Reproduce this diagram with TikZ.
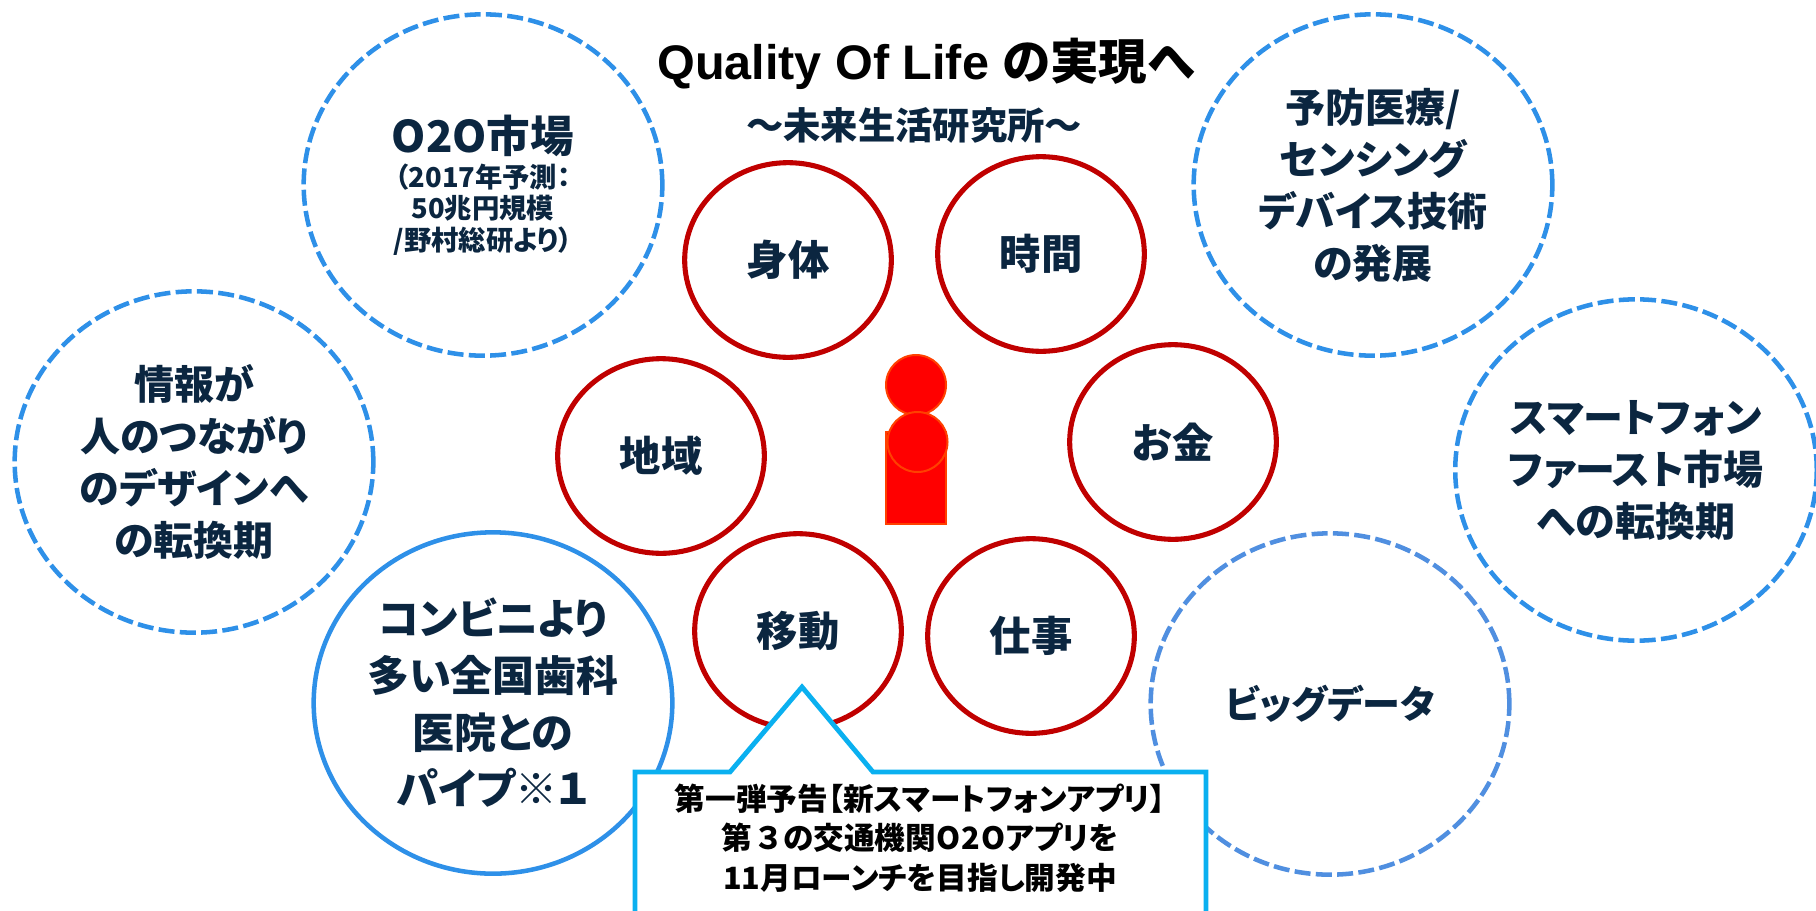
\documentclass[tikz,border=0pt]{standalone}
\usepackage{fontspec}
\usetikzlibrary{shapes.geometric}
\setmainfont{Liberation Sans}
\newfontfamily\cjk[RawFeature=+palt]{Noto Sans CJK JP}
\definecolor{bubbleblue}{RGB}{46,144,232}
\definecolor{databblue}{RGB}{80,143,224}
\definecolor{ringred}{RGB}{192,0,0}
\definecolor{inkblue}{RGB}{11,38,64}
\definecolor{callblue}{RGB}{10,176,240}
\definecolor{bodyred}{RGB}{255,0,0}
\definecolor{bodyline}{RGB}{255,64,0}
\tikzset{
  bubble/.style={ellipse,draw=#1,line width=3.4pt,inner sep=0pt,minimum width=269pt,minimum height=256pt,align=center,text=inkblue,font=\cjk\bfseries\fontsize{30}{39}\selectfont},
  broken/.style={dash pattern={on 12pt off 4pt}},
  ring/.style={ellipse,draw=ringred,line width=3.8pt,inner sep=0pt,minimum width=155pt,minimum height=146pt,align=center,text=inkblue,font=\cjk\bfseries\fontsize{31}{39}\selectfont},
  person/.style={fill=bodyred,draw=bodyline,line width=1.5pt},
}
\begin{document}
\begin{tikzpicture}[x=0.75pt,y=0.75pt,yscale=-1]
\clip (0,0) rectangle (1816,910);

%Shape: Ellipse
\node [bubble=bubbleblue,broken,font=\cjk\bfseries\fontsize{20.5}{23.5}\selectfont] (market) at (483,185) {{\fontsize{32.7}{36}\selectfont O2O市場}\\[3pt]（2017年予測：\\50兆円規模\\/野村総研より）};
\node [bubble=bubbleblue,broken] (design) at (194,462) {情報が\\人のつながり\\のデザインへ\\の転換期};
\node [bubble=bubbleblue,font=\cjk\bfseries\fontsize{31.5}{42.5}\selectfont] (dental) at (493,703) {コンビニより\\多い全国歯科\\医院との\\パイプ※１};
\node [bubble=databblue,broken,font=\cjk\bfseries\fontsize{28.5}{36}\selectfont] (bigdata) at (1330,704) {ビッグデータ};
\node [bubble=bubbleblue,broken] (phone) at (1636,470) {スマートフォン\\ファースト市場\\への転換期};
\node [bubble=bubbleblue,broken] (sensing) at (1373,185) {予防医療/\\センシング\\デバイス技術\\の発展};

%Shape: Ellipse
\node [ring] (body) at (788,260) {身体};
\node [ring] (time) at (1041,254) {時間};
\node [ring] (area) at (661,456) {地域};
\node [ring] (money) at (1173,442) {お金};
\node [ring] (move) at (798,631) {移動};
\node [ring] (work) at (1031,636) {仕事};

%Shape: Person
\draw [person] (886,432) rectangle (946,524);
\draw [person] (916,385) circle [radius=30];
\draw [person] (917.5,442) circle [radius=30];

%Shape: Callout
\draw [draw=callblue,fill=white,line width=3.6pt] (635,930) -- (635,772) -- (730,772) -- (802,687) -- (873,772) -- (1206,772) -- (1206,930) -- cycle;

% Text Node
\node [align=center,font=\cjk\bfseries\fontsize{23}{29.5}\selectfont] (teaser) at (920,838) {第一弾予告【新スマートフォンアプリ】\\第\hspace{3pt}３\hspace{3pt}の交通機関O\hspace{1pt}2\hspace{1pt}Oアプリを\\11月ローンチを目指し開発中};
% Text Node
\node [font=\bfseries\fontsize{36.4}{40}\selectfont] (title) at (926,64) {Quality Of Life {\cjk の実現へ}};
% Text Node
\node [text=inkblue,font=\cjk\bfseries\fontsize{28}{32}\selectfont] (subtitle) at (914,125) {〜未来生活研究所〜};

\end{tikzpicture}
\end{document}
